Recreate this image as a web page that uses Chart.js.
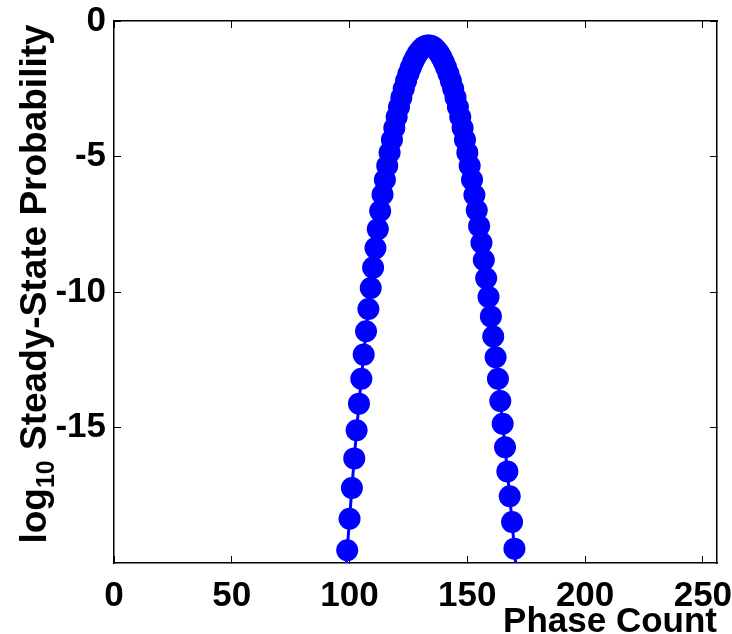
<!DOCTYPE html>
<html>
<head>
<meta charset="utf-8">
<script src="https://cdn.jsdelivr.net/npm/chart.js@4.4.1/dist/chart.umd.min.js"></script>
<style>
  body { margin: 0; background: #fff; }
  #chart { display: block; }
</style>
</head>
<body>
<canvas id="chart" width="732" height="634"></canvas>
<script>
// values (x = phase count, y = log10 probability)
const phaseCount = [
  98, 99, 100, 101, 102, 103, 104, 105, 106, 107, 108, 109, 110, 111, 112, 113,
  114, 115, 116, 117, 118, 119, 120, 121, 122, 123, 124, 125, 126, 127, 128, 129,
  130, 131, 132, 133, 134, 135, 136, 137, 138, 139, 140, 141, 142, 143, 144, 145,
  146, 147, 148, 149, 150, 151, 152, 153, 154, 155, 156, 157, 158, 159, 160, 161,
  162, 163, 164, 165, 166, 167, 168, 169, 170, 171
];
const logProb = [
  -20.75, -19.53, -18.37, -17.23, -16.14, -15.10, -14.12, -13.20, -12.31, -11.45, -10.63, -9.85, -9.10, -8.38, -7.68, -7.01,
  -6.40, -5.86, -5.34, -4.85, -4.38, -3.95, -3.54, -3.17, -2.82, -2.50, -2.21, -1.95, -1.72, -1.51, -1.34, -1.19,
  -1.08, -0.99, -0.93, -0.90, -0.90, -0.93, -0.99, -1.08, -1.19, -1.34, -1.51, -1.72, -1.95, -2.21, -2.50, -2.82,
  -3.17, -3.54, -3.95, -4.38, -4.85, -5.34, -5.86, -6.42, -6.98, -7.57, -8.18, -8.82, -9.49, -10.18, -10.90, -11.64,
  -12.41, -13.20, -14.02, -14.86, -15.73, -16.62, -17.54, -18.49, -19.47, -20.50
];
const xTicks = [0, 50, 100, 150, 200, 250];
const yTicks = [-15, -10, -5, 0];
const xRange = [0, 256];
const yRange = [-20, 0];

const FAMILY = '"Liberation Sans", Arial, Helvetica, sans-serif';
const bigFont = { family: FAMILY, size: 35, weight: 'bold', lineHeight: 1.2 };
const BLUE = '#0000ff';

const setTicks = (list) => (scale) => { scale.ticks = list.map(v => ({ value: v })); };
// fixed box sizes so the plot area sits where the reference has it
const fixX = (h) => (s) => { s.height = h; s.paddingLeft = 0; s.paddingRight = 0; };
const fixY = (w) => (s) => { s.width = w; s.paddingTop = 0; s.paddingBottom = 0; };

// y title needs a subscript, so it is drawn by hand
const yTitlePlugin = {
  id: 'yTitle',
  afterDraw(chart) {
    const { ctx, chartArea } = chart;
    const parts = [
      { t: 'log', size: 37, dy: 0 },
      { t: '10', size: 25, dy: 8 },
      { t: ' Steady-State Probability', size: 37, dy: 0 }
    ];
    ctx.save();
    let total = 0;
    parts.forEach(p => {
      ctx.font = 'bold ' + p.size + 'px ' + FAMILY;
      p.w = ctx.measureText(p.t).width;
      total += p.w;
    });
    ctx.translate(46, (chartArea.top + chartArea.bottom) / 2 - 8);
    ctx.rotate(-Math.PI / 2);
    ctx.fillStyle = '#000';
    ctx.textBaseline = 'alphabetic';
    ctx.textAlign = 'left';
    let x = -total / 2;
    parts.forEach(p => {
      ctx.font = 'bold ' + p.size + 'px ' + FAMILY;
      ctx.fillText(p.t, x, p.dy);
      x += p.w;
    });
    ctx.restore();
  }
};

const ctx = document.getElementById('chart').getContext('2d');
new Chart(ctx, {
  type: 'line',
  data: {
    datasets: [{
      data: phaseCount.map((x, i) => ({ x: x, y: logProb[i] })),
      borderColor: BLUE,
      backgroundColor: BLUE,
      borderWidth: 3,
      pointRadius: 11,
      pointHoverRadius: 11,
      pointBorderWidth: 0,
      pointBackgroundColor: BLUE,
      tension: 0,
      fill: false,
      clip: 0
    }]
  },
  options: {
    responsive: false,
    animation: false,
    devicePixelRatio: 1,
    layout: { padding: 0 },
    plugins: { legend: { display: false }, tooltip: { enabled: false } },
    scales: {
      x: {
        type: 'linear', position: 'bottom',
        min: xRange[0], max: xRange[1],
        afterBuildTicks: setTicks(xTicks),
        afterFit: fixX(71),
        ticks: { font: bigFont, color: '#000', padding: 19, maxRotation: 0, autoSkip: false },
        grid: { drawOnChartArea: false, tickLength: -7, color: '#000', lineWidth: 1 },
        border: { color: '#000', width: 1.5 },
        title: {
          display: true, text: 'Phase Count', align: 'end', color: '#000',
          font: { family: FAMILY, size: 35, weight: 'bold', lineHeight: 1 },
          padding: { top: 0, bottom: -6 }
        }
      },
      x2: {
        type: 'linear', position: 'top',
        min: xRange[0], max: xRange[1],
        afterBuildTicks: setTicks(xTicks),
        afterFit: fixX(21),
        ticks: { display: false },
        grid: { drawOnChartArea: false, tickLength: -7, color: '#000', lineWidth: 1 },
        border: { color: '#000', width: 1.5 }
      },
      y: {
        type: 'linear', position: 'left',
        min: yRange[0], max: yRange[1],
        afterBuildTicks: setTicks(yTicks),
        afterFit: fixY(114),
        ticks: { font: bigFont, color: '#000', padding: 15, autoSkip: false },
        grid: { drawOnChartArea: false, tickLength: -7, color: '#000', lineWidth: 1 },
        border: { color: '#000', width: 1.5 }
      },
      y2: {
        type: 'linear', position: 'right',
        min: yRange[0], max: yRange[1],
        afterBuildTicks: setTicks(yTicks),
        afterFit: fixY(15),
        ticks: { display: false },
        grid: { drawOnChartArea: false, tickLength: -7, color: '#000', lineWidth: 1 },
        border: { color: '#000', width: 1.5 }
      }
    }
  },
  plugins: [yTitlePlugin]
});
</script>
</body>
</html>
